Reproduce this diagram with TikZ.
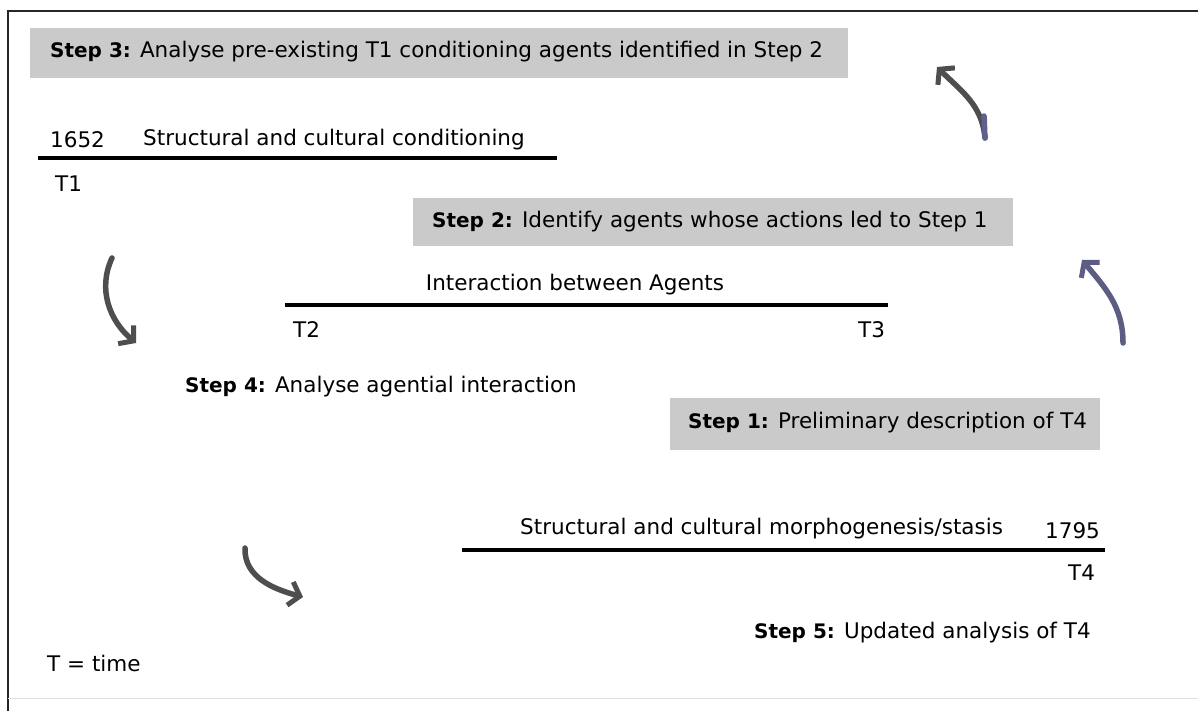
\documentclass[tikz,border=0pt]{standalone}
\usepackage{fontspec}
\setmainfont{DejaVu Sans}
\usetikzlibrary{arrows.meta}
\definecolor{boxgray}{RGB}{202,202,202}
\definecolor{arrowgray}{RGB}{78,78,78}
\definecolor{arrowblue}{RGB}{96,96,140}
% bold step label, set a little smaller than the running text
\newcommand{\steplabel}[1]{{\fontsize{20}{24}\selectfont\bfseries #1}}
\tikzset{
  txt/.style={inner sep=0pt, anchor=west, font=\fontsize{21.5}{26}\selectfont},
  stepbox/.style={fill=boxgray, draw=none},
  timeline/.style={line width=3.5pt, black},
  curvearrow/.style={line width=5.5pt, arrowgray, line cap=round,
    -{Straight Barb[length=10pt,width=24pt,line width=5pt]}},
}
\begin{document}
\begin{tikzpicture}[x=1pt,y=-1pt]
\useasboundingbox (0,0) rectangle (1198,711);
\fill[white] (0,0) rectangle (1198,711);
% frame (open to the right)
\draw[line width=2pt, black!85] (8,711) -- (8,11) -- (1198,11);
\draw[line width=1pt, black!12] (8,698) -- (1198,698);

% Step 3
\fill[stepbox] (30,28) rectangle (848,78);
\node[txt] (s3) at (50,52) {\steplabel{Step 3:} Analyse pre-existing T1 conditioning agents identified in Step 2};

% T1 timeline
\coordinate (l1a) at (38,158);
\coordinate (l1b) at (557,158);
\draw[timeline] (l1a) -- (l1b);
\node[txt] (y1652) at (50,140) {1652};
\node[txt] (c1) at (143,140) {Structural and cultural conditioning};
\node[txt] (t1) at (55,184) {T1};

% Step 2
\fill[stepbox] (413,198) rectangle (1013,246);
\node[txt] (s2) at (432,222) {\steplabel{Step 2:} Identify agents whose actions led to Step 1};

% interaction timeline
\coordinate (l2a) at (285,305);
\coordinate (l2b) at (888,305);
\draw[timeline] (l2a) -- (l2b);
\node[txt, anchor=center] (ia) at (575,285) {Interaction between Agents};
\node[txt] (t2) at (293,330) {T2};
\node[txt] (t3) at (858,330) {T3};

% Step 4
\node[txt] (s4) at (185,387) {\steplabel{Step 4:} Analyse agential interaction};

% Step 1
\fill[stepbox] (670,398) rectangle (1100,450);
\node[txt] (s1) at (688,423) {\steplabel{Step 1:} Preliminary description of T4};

% T4 timeline
\coordinate (l3a) at (462,550);
\coordinate (l3b) at (1105,550);
\draw[timeline] (l3a) -- (l3b);
\node[txt] (c4) at (520,529) {Structural and cultural morphogenesis/stasis};
\node[txt] (y1795) at (1045,531) {1795};
\node[txt] (t4) at (1068,573) {T4};

% Step 5 and key
\node[txt] (s5) at (754,633) {\steplabel{Step 5:} Updated analysis of T4};
\node[txt] (key) at (47,663) {T = time};

% curved arrows
\coordinate (a1s) at (985,138);
\coordinate (a1e) at (937,67);
\draw[curvearrow] (a1s) to[out=95,in=-45] (a1e);
\draw[line width=5.5pt, arrowblue, line cap=round] (a1s) to[out=95,in=-85] (984,116);

\coordinate (a2s) at (1123,343);
\coordinate (a2e) at (1082,260);
\draw[curvearrow, arrowblue!85!arrowgray] (a2s) to[out=90,in=-50] (a2e);

\coordinate (a3s) at (112,258);
\coordinate (a3e) at (136,343);
\draw[curvearrow] (a3s) to[out=-115,in=140] (a3e);

\coordinate (a4s) at (245,548);
\coordinate (a4e) at (303,597);
\draw[curvearrow] (a4s) to[out=-92,in=165] (a4e);
\end{tikzpicture}
\end{document}
